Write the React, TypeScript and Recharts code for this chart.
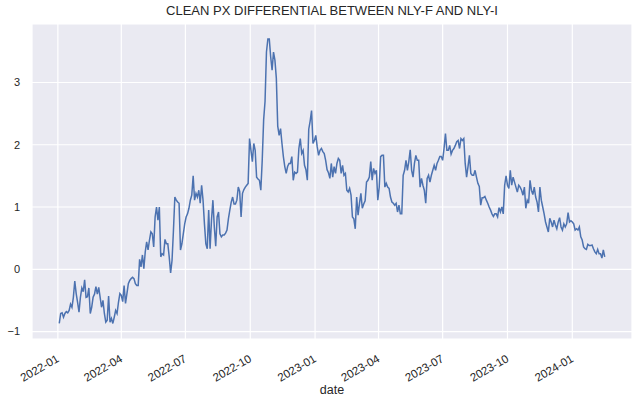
import { LineChart, Line, XAxis, YAxis, CartesianGrid } from "recharts";

// daily-ish readings, one value every 2 calendar days from the start date
const startDate = "2022-01-03";
const stepDays = 2;

const spread = [
  -0.87, -0.71, -0.70, -0.77, -0.71, -0.68, -0.70, -0.66, -0.56, -0.61,
  -0.45, -0.19, -0.39, -0.53, -0.69, -0.45, -0.30, -0.36, -0.17, -0.45,
  -0.44, -0.30, -0.71, -0.61, -0.45, -0.40, -0.28, -0.40, -0.29, -0.45,
  -0.61, -0.50, -0.71, -0.85, -0.82, -0.43, -0.85, -0.79, -0.87, -0.77,
  -0.66, -0.71, -0.53, -0.39, -0.42, -0.52, -0.26, -0.55, -0.39, -0.23,
  -0.18, -0.15, -0.13, -0.15, -0.23, -0.26, -0.26, 0.16,
  0.04, 0.23, 0.01, 0.28, 0.44, 0.31, 0.47, 0.60, 0.57, 0.36,
  0.84, 1.00, 0.79, 1.00, 0.20, 0.25, 0.23, 0.48, 0.41, 0.41,
  0.20, -0.06, 0.14, 0.62, 1.16, 1.11, 1.08, 1.06, 0.31, 0.41,
  0.57, 0.73, 0.84, 0.89, 0.98, 1.11, 1.19, 1.50, 1.11, 1.22,
  1.16, 1.27, 1.06, 1.35, 1.11, 0.73, 0.41, 0.33, 0.95, 0.33,
  0.79, 1.11, 0.68, 0.37, 0.84, 0.92, 0.57, 0.52, 0.55, 0.55,
  0.58, 0.63, 0.81, 0.95, 1.08, 1.16, 1.05, 1.05, 1.11, 1.32,
  1.25,
  0.84, 1.22, 1.28, 1.32, 1.35, 1.38, 2.10, 1.91, 1.73, 2.02,
  1.91, 1.48, 1.45, 1.43, 1.27, 1.75, 2.40, 2.70, 3.49, 3.70,
  3.70, 3.41, 3.20, 3.49, 3.36, 3.07, 2.30, 2.15, 2.26, 2.02,
  1.81, 1.65, 1.54, 1.65, 1.70, 1.70, 1.81, 1.43, 1.56, 1.54,
  1.56, 1.94, 2.10, 1.86, 1.91, 1.67, 1.60, 1.43, 2.25, 2.38,
  2.55, 2.02, 2.07, 2.15, 1.97, 1.83, 1.91, 1.94, 1.89, 1.86,
  1.75, 1.60, 1.55, 1.46, 1.70, 1.48, 1.65, 1.54, 1.70, 1.78,
  1.75,
  1.54, 1.67, 1.51, 1.54, 1.27, 1.24, 1.30, 1.19, 0.84, 0.81,
  0.65, 1.16, 0.87, 1.06, 1.22, 0.98, 1.05, 1.10, 1.40, 1.43,
  1.48, 1.73, 1.43, 1.62, 1.54, 1.59, 1.11, 1.32, 1.81, 1.83,
  1.83, 1.32, 1.38, 1.32, 1.30, 1.16, 1.08, 1.06, 1.03, 1.06,
  0.92, 1.03, 0.89, 0.89, 1.51, 1.59, 1.75, 1.59, 1.73, 1.92,
  1.59, 1.48, 1.70, 1.83, 1.75, 1.75, 1.32, 1.46, 1.35, 1.27,
  1.06, 1.46, 1.51, 1.40, 1.51, 1.59, 1.67, 1.59, 1.70, 1.75,
  1.81,
  1.81, 1.75, 1.94, 2.18, 1.91, 1.91, 1.99, 1.85, 1.91, 1.94,
  1.99, 2.05, 2.07, 1.94, 2.10, 2.07, 2.10, 1.70, 1.48, 1.65,
  1.83, 1.54, 1.51, 1.51, 1.59, 1.48, 1.38, 1.33, 1.03, 1.15,
  1.15, 1.17, 1.11, 1.06, 1.00, 0.95, 0.89, 0.85, 0.89, 0.89,
  0.84, 0.99, 0.92, 1.00, 0.89, 1.35, 1.50, 1.35, 1.30, 1.59,
  1.35, 1.48, 1.40, 1.32, 1.24, 1.35, 1.32, 1.27, 1.19, 1.32,
  0.98, 1.11, 1.06, 1.43, 1.27, 1.20, 1.32, 1.16, 1.08, 0.92,
  1.32,
  1.11, 1.00, 0.89, 0.76, 0.68, 0.60, 0.82, 0.76, 0.68, 0.79,
  0.71, 0.65, 0.76, 0.83, 0.68, 0.63, 0.73, 0.68, 0.73, 0.91,
  0.76, 0.78, 0.76, 0.73, 0.63, 0.65, 0.63, 0.68, 0.52, 0.47,
  0.36, 0.33, 0.32, 0.40, 0.38, 0.38, 0.39, 0.33, 0.28, 0.25,
  0.32, 0.25, 0.25, 0.18, 0.31, 0.20,
];

const monthTicks = [
  "2022-01", "2022-04", "2022-07", "2022-10",
  "2023-01", "2023-04", "2023-07", "2023-10", "2024-01",
];
const yTicks = [-1, 0, 1, 2, 3];
const title = "CLEAN PX DIFFERENTIAL BETWEEN NLY-F AND NLY-I";

const DAY = 86400000;
const t0 = Date.parse(startDate + "T00:00:00Z");
const data = spread.map((v, i) => ({ date: t0 + i * stepDays * DAY, value: v }));
const xTicks = monthTicks.map((m) => Date.parse(m + "-01T00:00:00Z"));
const first = data[0].date;
const last = data[data.length - 1].date;
const pad = (last - first) * 0.05;

const FONT = '"Liberation Sans", Arial, sans-serif';
const TEXT = "#262626";

function DateTick(props: any) {
  const { x, y, payload } = props;
  const label = new Date(payload.value).toISOString().slice(0, 7);
  const ax = x - 2;
  const ay = y + 11;
  return (
    <text
      x={ax}
      y={ay}
      textAnchor="end"
      dominantBaseline="hanging"
      transform={`rotate(-30 ${ax} ${ay})`}
      fontSize={11.5}
      fontFamily={FONT}
      fill={TEXT}
    >
      {label}
    </text>
  );
}

export default function App() {
  return (
    <div style={{ position: "absolute", left: 0, top: 0, width: 640, height: 405, background: "#fff" }}>
      <div
        style={{
          position: "absolute",
          left: 32,
          width: 600,
          top: 4,
          textAlign: "center",
          fontFamily: FONT,
          fontSize: 13,
          lineHeight: "14px",
          color: TEXT,
        }}
      >
        {title}
      </div>
      <LineChart width={640} height={405} data={data} margin={{ top: 24, right: 8, bottom: 0, left: 0 }}>
        <CartesianGrid fill="#EAEAF2" stroke="#ffffff" strokeWidth={1.2} />
        <XAxis
          dataKey="date"
          type="number"
          domain={[first - pad, last + pad]}
          ticks={xTicks}
          interval={0}
          tick={<DateTick />}
          tickLine={false}
          axisLine={false}
          tickSize={4}
          tickMargin={0}
          height={66}
          label={{ value: "date", position: "insideBottom", offset: 11, fill: TEXT, fontSize: 12.5, fontFamily: FONT }}
        />
        <YAxis
          type="number"
          domain={[-1.12, 3.94]}
          ticks={yTicks}
          width={32}
          tickLine={false}
          axisLine={false}
          tickSize={0}
          tickMargin={12}
          tickFormatter={(v: number) => String(v).replace("-", "\u2212")}
          tick={{ fontSize: 11, fill: TEXT, fontFamily: FONT }}
        />
        <Line
          type="linear"
          dataKey="value"
          stroke="#4C72B0"
          strokeWidth={1.5}
          dot={false}
          isAnimationActive={false}
        />
      </LineChart>
    </div>
  );
}
